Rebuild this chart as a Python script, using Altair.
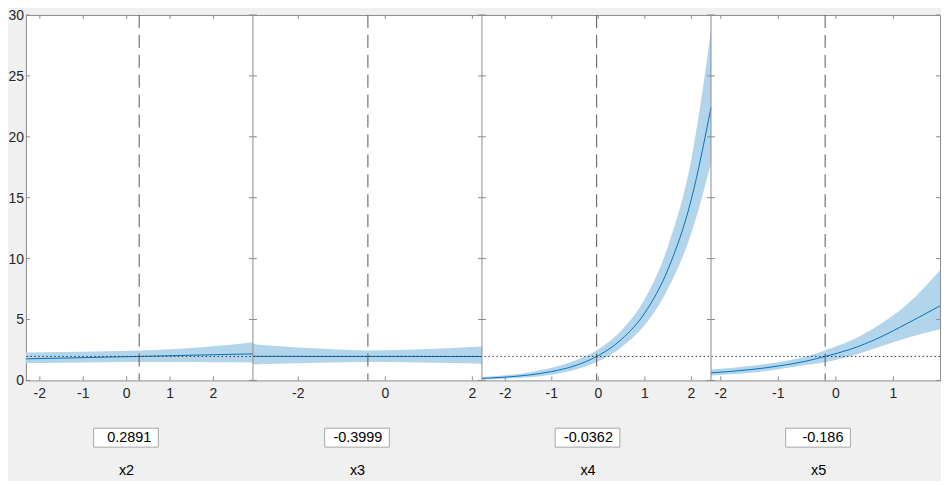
import altair as alt
import pandas as pd

# ---------------- data ----------------
names = ["x2", "x3", "x4", "x5"]
cur_values = [0.2891, -0.3999, -0.0362, -0.186]
cur_labels = ["0.2891", "-0.3999", "-0.0362", "-0.186"]
ref_level = [1.97]

x2_x = [-2.32, -1.5, -0.5, 0.29, 1.0, 2.0, 2.91]
x2_mean = [1.77, 1.83, 1.91, 1.97, 2.03, 2.11, 2.18]
x2_lo = [1.42, 1.45, 1.49, 1.51, 1.51, 1.50, 1.48]
x2_hi = [2.30, 2.33, 2.39, 2.45, 2.56, 2.80, 3.14]

x3_x = [-3.04, -2.5, -1.5, -0.40, 0.5, 1.5, 2.22]
x3_mean = [1.98, 1.98, 1.97, 1.97, 1.97, 1.96, 1.96]
x3_lo = [1.30, 1.36, 1.45, 1.51, 1.49, 1.42, 1.37]
x3_hi = [2.98, 2.83, 2.62, 2.45, 2.52, 2.66, 2.78]

x4_x = [-2.50, -2.0, -1.5, -1.0, -0.5, 0.0, 0.5, 1.0, 1.5, 2.0, 2.42]
x4_mean = [0.16, 0.27, 0.44, 0.73, 1.21, 2.04, 3.38, 5.55, 9.15, 14.9, 22.4]
x4_lo = [0.07, 0.14, 0.26, 0.47, 0.87, 1.57, 2.73, 4.56, 7.55, 12.1, 17.8]
x4_hi = [0.29, 0.43, 0.66, 1.04, 1.63, 2.56, 4.12, 6.70, 11.05, 18.2, 28.7]

x5_x = [-2.17, -1.5, -1.0, -0.5, -0.186, 0.25, 0.75, 1.25, 1.81]
x5_mean = [0.62, 0.88, 1.18, 1.60, 1.97, 2.55, 3.50, 4.70, 6.12]
x5_lo = [0.40, 0.62, 0.92, 1.28, 1.50, 1.98, 2.75, 3.50, 4.20]
x5_hi = [0.89, 1.18, 1.50, 1.98, 2.47, 3.25, 4.55, 6.30, 9.05]

x_domains = [[-2.32, 2.91], [-3.04, 2.22], [-2.50, 2.42], [-2.17, 1.81]]
x_ticks = [[-2, -1, 0, 1, 2], [-2, 0, 2], [-2, -1, 0, 1, 2], [-2, -1, 0, 1]]
y_ticks = [0, 5, 10, 15, 20, 25, 30]

series = [
    (x2_x, x2_lo, x2_mean, x2_hi),
    (x3_x, x3_lo, x3_mean, x3_hi),
    (x4_x, x4_lo, x4_mean, x4_hi),
    (x5_x, x5_lo, x5_mean, x5_hi),
]

# ---------------- layout / style ----------------
W, H = 918, 367
bounds = [0, 228, 458, 688, 918]
box_cx = [100.5, 332.5, 564, 795.5]
FONT = "Liberation Sans"
FRAME = "#8c8c8c"
BLUE = "#0072BD"
BAND = "#b3d5eb"
TXT = "#262626"

yscale = alt.Scale(domain=[0, 30], nice=False, zero=False)
one = pd.DataFrame({"k": [0]})


def tick_text(v):
    return ("-" + str(-v)) if v < 0 else str(v)


def panel(i):
    xs, lo, mean, hi = series[i]
    df = pd.DataFrame({"x": xs, "lo": lo, "mean": mean, "hi": hi})
    xsc = alt.Scale(domain=x_domains[i], range=[bounds[i], bounds[i + 1]], nice=False, zero=False)
    base = alt.Chart(df)
    band = base.mark_area(color=BAND, interpolate="monotone").encode(
        x=alt.X("x:Q", scale=xsc, axis=None),
        y=alt.Y("lo:Q", scale=yscale, axis=None),
        y2="hi:Q",
    )
    line = base.mark_line(color=BLUE, strokeWidth=1, interpolate="monotone").encode(
        x=alt.X("x:Q", scale=xsc, axis=None),
        y=alt.Y("mean:Q", scale=yscale, axis=None),
    )
    cur = alt.Chart(pd.DataFrame({"c": [cur_values[i]]})).mark_rule(
        color="#555555", strokeDash=[13, 7], strokeWidth=1
    ).encode(x=alt.X("c:Q", scale=xsc, axis=None))
    tdf = pd.DataFrame({"t": x_ticks[i], "lab": [tick_text(v) for v in x_ticks[i]]})
    tb = alt.Chart(tdf).mark_rule(color=FRAME).encode(
        x=alt.X("t:Q", scale=xsc, axis=None), y=alt.value(H - 4), y2=alt.value(H))
    tt = alt.Chart(tdf).mark_rule(color=FRAME).encode(
        x=alt.X("t:Q", scale=xsc, axis=None), y=alt.value(0), y2=alt.value(4))
    tl = alt.Chart(tdf).mark_text(
        align="center", baseline="alphabetic", font=FONT, fontSize=14, color=TXT
    ).encode(x=alt.X("t:Q", scale=xsc, axis=None), y=alt.value(H + 18), text="lab:N")
    return alt.layer(band, line, cur, tb, tt, tl)


layers = [panel(i) for i in range(4)]

# dotted reference level across all panels
layers.append(
    alt.Chart(pd.DataFrame({"r": ref_level})).mark_rule(
        color="#333333", strokeDash=[1.5, 2.5], strokeWidth=1
    ).encode(y=alt.Y("r:Q", scale=yscale, axis=None))
)

# panel separators
for b in bounds[1:-1]:
    layers.append(alt.Chart(one).mark_rule(color=FRAME).encode(
        x=alt.value(b), y=alt.value(0), y2=alt.value(H)))

# y ticks on every panel edge (inward) and y tick labels on the left
ydf = pd.DataFrame({"v": y_ticks, "lab": [str(v) for v in y_ticks]})
for b in bounds:
    layers.append(alt.Chart(ydf).mark_rule(color=FRAME).encode(
        y=alt.Y("v:Q", scale=yscale, axis=None),
        x=alt.value(max(0, b - 4)), x2=alt.value(min(W, b + 4))))
layers.append(alt.Chart(ydf).mark_text(
    align="right", baseline="middle", font=FONT, fontSize=14, color=TXT, dy=1
).encode(y=alt.Y("v:Q", scale=yscale, axis=None), x=alt.value(-2), text="lab:N"))

# value boxes and variable names
for i in range(4):
    cx = box_cx[i]
    layers.append(alt.Chart(one).mark_rect(fill="white", stroke="#a6a6a6", strokeWidth=1).encode(
        x=alt.value(cx - 32.5), x2=alt.value(cx + 32.5), y=alt.value(415), y2=alt.value(434)))
    layers.append(alt.Chart(pd.DataFrame({"s": [cur_labels[i]]})).mark_text(
        align="right", baseline="middle", font=FONT, fontSize=14.5, color="#000000"
    ).encode(text="s:N", x=alt.value(cx + 32.5 - 7), y=alt.value(424.5)))
    layers.append(alt.Chart(pd.DataFrame({"s": [names[i]]})).mark_text(
        align="center", baseline="alphabetic", font=FONT, fontSize=14.5, color="#000000"
    ).encode(text="s:N", x=alt.value(cx + 0.5), y=alt.value(462)))

chart = alt.layer(*layers).resolve_scale(x="independent").properties(
    width=W, height=H,
    padding={"left": 18, "top": 6, "right": 1, "bottom": 100},
    autosize=alt.AutoSizeParams(type="none"),
    background="#f0f0f0",
).configure_view(stroke=FRAME, fill="white", strokeWidth=1)

chart.save("out.html", embed_options={"renderer": "svg", "actions": False})
